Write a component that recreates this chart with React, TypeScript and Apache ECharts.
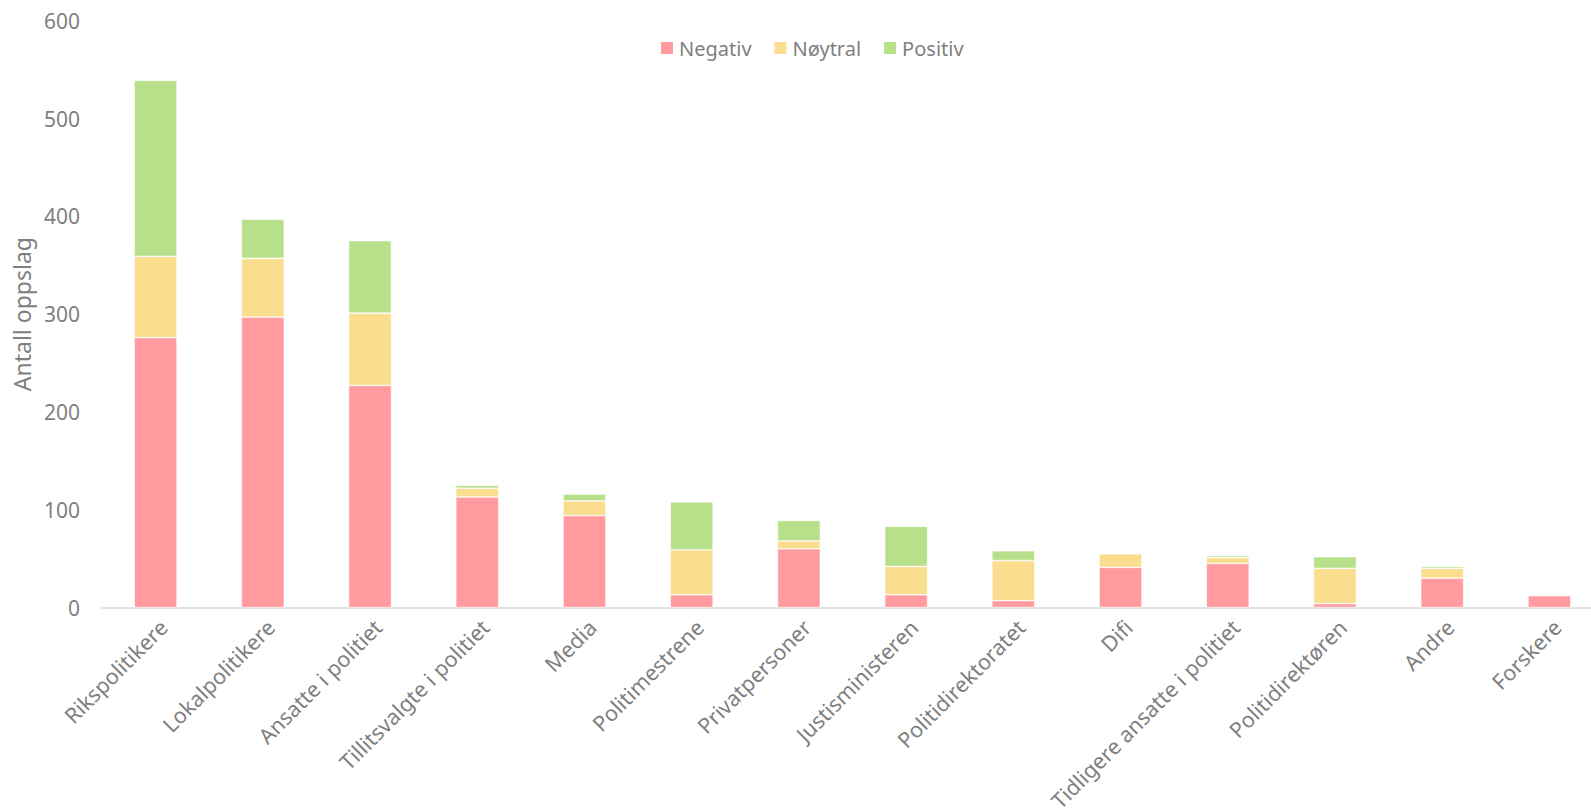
import React, { useEffect, useRef } from "react";
import * as echarts from "echarts";

const categories = [
  "Rikspolitikere",
  "Lokalpolitikere",
  "Ansatte i politiet",
  "Tillitsvalgte i politiet",
  "Media",
  "Politimestrene",
  "Privatpersoner",
  "Justisministeren",
  "Politidirektoratet",
  "Difi",
  "Tidligere ansatte i politiet",
  "Politidirektøren",
  "Andre",
  "Forskere",
];
const negativ = [276, 297, 227, 113, 94, 13, 60, 13, 7, 41, 45, 4, 30, 12];
const noytral = [83, 60, 74, 9, 15, 46, 8, 29, 41, 14, 6, 36, 10, 1];
const positiv = [180, 40, 74, 3, 7, 49, 21, 41, 10, 0, 2, 12, 2, 0];
const yTicks = [0, 100, 200, 300, 400, 500, 600];

const TEXT = "#7f7f7f";
const FONT = "Noto Sans";

export default function App() {
  const ref = useRef<HTMLDivElement>(null);
  useEffect(() => {
    document.body.style.margin = "0";
    const chart = echarts.init(ref.current!, null, { renderer: "svg" });
    const mk = (name: string, data: number[], color: string) => ({
      name,
      type: "bar",
      stack: "total",
      data,
      barWidth: "40%",
      itemStyle: { color, borderColor: "#ffffff", borderWidth: 0.6 },
      emphasis: { disabled: true },
    });
    chart.setOption({
      animation: false,
      textStyle: { fontFamily: FONT },
      legend: {
        left: 654,
        top: 33,
        itemWidth: 14,
        itemHeight: 14,
        itemGap: 21,
        icon: "rect",
        textStyle: { color: TEXT, fontSize: 20, fontFamily: FONT },
        data: ["Negativ", "Nøytral", "Positiv"],
      },
      grid: {
        left: 102,
        right: -12,
        top: 20.7,
        bottom: 203.5,
        containLabel: false,
        outerBoundsMode: "none",
      },
      xAxis: {
        type: "category",
        data: categories,
        axisTick: { show: false },
        axisLine: { lineStyle: { color: "#d9d9d9", width: 1.5 } },
        axisLabel: {
          rotate: 45,
          interval: 0,
          margin: 8,
          verticalAlign: "top",
          color: TEXT,
          fontSize: 21.5,
          fontFamily: FONT,
        },
      },
      yAxis: {
        type: "value",
        min: yTicks[0],
        max: yTicks[yTicks.length - 1],
        interval: 100,
        name: "Antall oppslag",
        nameLocation: "middle",
        nameGap: 68,
        nameTextStyle: { color: TEXT, fontSize: 23, fontFamily: FONT },
        splitLine: { show: false },
        axisLine: { show: false },
        axisTick: { show: false },
        axisLabel: { color: TEXT, fontSize: 21, margin: 22, fontFamily: FONT },
      },
      series: [
        mk("Negativ", negativ, "#ff9a9e"),
        mk("Nøytral", noytral, "#fadd8e"),
        mk("Positiv", positiv, "#b8e08a"),
      ],
    });
    return () => chart.dispose();
  }, []);
  return (
    <div
      ref={ref}
      style={{ position: "absolute", left: 0, top: 0, width: 1591, height: 811, background: "#fff" }}
    />
  );
}
